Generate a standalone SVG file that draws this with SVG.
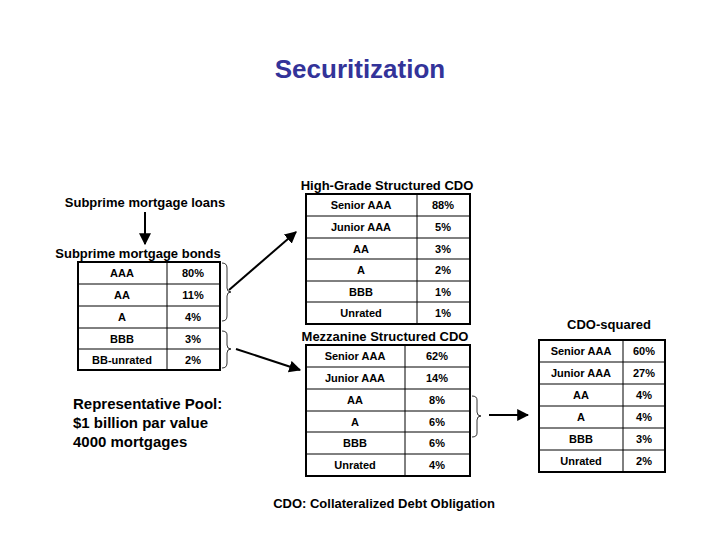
<svg xmlns="http://www.w3.org/2000/svg" width="720" height="540" viewBox="0 0 720 540">
<defs><marker id="ah" viewBox="0 0 10 10" refX="9" refY="5" markerWidth="6" markerHeight="6" orient="auto"><path d="M0,0L10,5L0,10z" fill="#000"/></marker></defs>
<style>
text{font-family:"Liberation Sans",Arial,sans-serif;font-weight:bold;fill:#000}
.c{font-size:11px;text-anchor:middle}
.h{font-size:13px;text-anchor:middle}
.t{fill:none;stroke:#000;stroke-width:2}
.g{stroke:#000;stroke-width:1}
.br{fill:none;stroke:#000;stroke-width:0.8}
</style>
<rect width="720" height="540" fill="#fff"/>
<text x="360" y="78" style="font-size:26px;fill:#333399;text-anchor:middle">Securitization</text>
<g id="loans"><text class="h" x="145" y="207">Subprime mortgage loans</text></g>
<g id="bonds">
<text class="h" x="138" y="258">Subprime mortgage bonds</text>
<rect class="t" x="78" y="262" width="142" height="108"/>
<path class="g" d="M167,262V370M78,284H220M78,306H220M78,328H220M78,349H220"/>
<text class="c" x="122" y="277">AAA</text><text class="c" x="193" y="277">80%</text>
<text class="c" x="122" y="299">AA</text><text class="c" x="193" y="299">11%</text>
<text class="c" x="122" y="321">A</text><text class="c" x="193" y="321">4%</text>
<text class="c" x="122" y="343">BBB</text><text class="c" x="193" y="343">3%</text>
<text class="c" x="122" y="364">BB-unrated</text><text class="c" x="193" y="364">2%</text>
</g>
<g id="pool"><text x="73" y="409" style="font-size:15px">Representative Pool:</text>
<text x="73" y="428" style="font-size:15px">$1 billion par value</text>
<text x="73" y="447" style="font-size:15px">4000 mortgages</text></g>
<g id="highgrade">
<text class="h" x="387" y="190">High-Grade Structured CDO</text>
<rect class="t" x="306" y="194" width="164" height="130"/>
<path class="g" d="M417,194V324M306,216H470M306,238H470M306,259H470M306,281H470M306,302H470"/>
<text class="c" x="361" y="209">Senior AAA</text><text class="c" x="443" y="209">88%</text>
<text class="c" x="361" y="231">Junior AAA</text><text class="c" x="443" y="231">5%</text>
<text class="c" x="361" y="253">AA</text><text class="c" x="443" y="253">3%</text>
<text class="c" x="361" y="274">A</text><text class="c" x="443" y="274">2%</text>
<text class="c" x="361" y="296">BBB</text><text class="c" x="443" y="296">1%</text>
<text class="c" x="361" y="317">Unrated</text><text class="c" x="443" y="317">1%</text>
</g>
<g id="mezz">
<text class="h" x="385" y="341">Mezzanine Structured CDO</text>
<rect class="t" x="306" y="345" width="164" height="131"/>
<path class="g" d="M405,345V476M306,367H470M306,389H470M306,411H470M306,432H470M306,454H470"/>
<text class="c" x="355" y="360">Senior AAA</text><text class="c" x="437" y="360">62%</text>
<text class="c" x="355" y="382">Junior AAA</text><text class="c" x="437" y="382">14%</text>
<text class="c" x="355" y="404">AA</text><text class="c" x="437" y="404">8%</text>
<text class="c" x="355" y="426">A</text><text class="c" x="437" y="426">6%</text>
<text class="c" x="355" y="447">BBB</text><text class="c" x="437" y="447">6%</text>
<text class="c" x="355" y="469">Unrated</text><text class="c" x="437" y="469">4%</text>
</g>
<g id="squared">
<text class="h" x="609" y="329">CDO-squared</text>
<rect class="t" x="539" y="340" width="126" height="132"/>
<path class="g" d="M623,340V472M539,362H665M539,384H665M539,406H665M539,428H665M539,450H665"/>
<text class="c" x="581" y="355">Senior AAA</text><text class="c" x="644" y="355">60%</text>
<text class="c" x="581" y="377">Junior AAA</text><text class="c" x="644" y="377">27%</text>
<text class="c" x="581" y="399">AA</text><text class="c" x="644" y="399">4%</text>
<text class="c" x="581" y="421">A</text><text class="c" x="644" y="421">4%</text>
<text class="c" x="581" y="443">BBB</text><text class="c" x="644" y="443">3%</text>
<text class="c" x="581" y="465">Unrated</text><text class="c" x="644" y="465">2%</text>
</g>
<text class="h" x="384" y="508">CDO: Collateralized Debt Obligation</text>
<g id="connectors">
<path class="br" d="M222,263Q227,263 227,268V288Q227,292 231,292Q227,292 227,296V316Q227,321 222,321"/>
<path class="br" d="M222,331Q227,331 227,335V345Q227,349 231,349Q227,349 227,353V363Q227,368 222,368"/>
<path class="br" d="M472,396Q477,396 477,400V412Q477,416 481,416Q477,416 477,420V433Q477,437 472,437"/>
<g stroke="#000" stroke-width="2" fill="none" marker-end="url(#ah)">
<path d="M145,212V244"/>
<path d="M229,290L296,232"/>
<path d="M236,349L300,370"/>
<path d="M489,415H528"/>
</g>
</g>
</svg>
